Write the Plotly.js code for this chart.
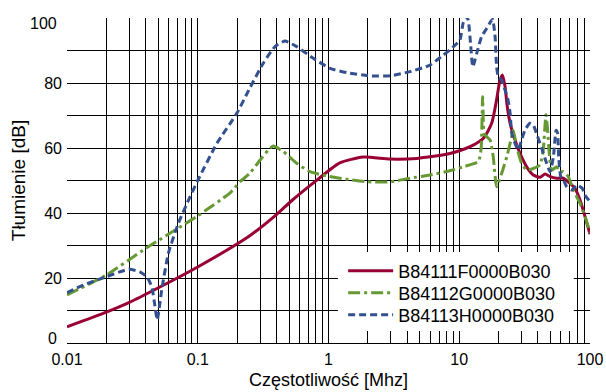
<!DOCTYPE html>
<html>
<head>
<meta charset="utf-8">
<script src="https://cdn.plot.ly/plotly-3.0.1.min.js"></script>
<style>html,body{margin:0;padding:0;background:#fff;}#chart{width:606px;height:392px;}</style>
</head>
<body>
<div id="chart"></div>
<script>
// Series names
const seriesNames = ["B84111F0000B030", "B84112G0000B030", "B84113H0000B030"];

// B84111F0000B030 (solid, crimson)
const redFreq = [0.01, 0.02, 0.03, 0.05, 0.1, 0.25, 0.4, 0.53, 0.82, 1.22, 1.84, 2.95, 4.75, 8.5, 12.1, 15.3, 17.7, 19.3, 20.5, 21.4, 22.4, 23.3, 24.5, 26.7, 29.1, 32.8, 36.8, 41.5, 45.3, 49.5, 55.6, 62.5, 70.3, 76.8, 83.9, 91.6, 100];
const redDb = [5, 9.5, 12.5, 17, 23.4, 33, 39.5, 44, 50.2, 55.4, 57.2, 56.6, 56.8, 58.3, 60.4, 63, 67.6, 74.8, 80.9, 82.5, 78.9, 72.7, 67.6, 62.5, 58.4, 54.2, 51.7, 51, 52, 51.2, 50.7, 50.7, 49.1, 47.6, 44, 38.9, 33.5];

// B84112G0000B030 (dash-dot, green)
const greenFreq = [0.01, 0.02, 0.04, 0.098, 0.177, 0.21, 0.25, 0.30, 0.347, 0.378, 0.451, 0.571, 0.723, 0.968, 1.38, 1.96, 2.95, 4.2, 5.97, 8.49, 10.7, 14.0, 14.7, 15.1, 15.5, 16.2, 17.2, 18.2, 19.3, 21.1, 23.1, 25.2, 25.9, 27.5, 30, 32.8, 36.8, 41.5, 43.9, 46, 47.2, 48.8, 50.9, 55.6, 58.9, 62.5, 68.3, 74.5, 83.9, 91.6, 100];
const greenDb = [14.8, 20.9, 29.1, 38.9, 46.2, 49.6, 52.2, 56.3, 59.4, 60.6, 58.9, 55.3, 52.7, 51.4, 50.4, 49.6, 49.6, 50.7, 51.7, 53.0, 54.2, 55.8, 60, 75.8, 64.5, 63.5, 62.5, 57.3, 48.1, 52.2, 57.3, 63.5, 65.5, 60.4, 55.3, 53.2, 53.7, 54.8, 59.4, 70.2, 66.5, 58.4, 53.2, 54.2, 52.7, 52.7, 51.2, 47.1, 43, 38.9, 34];

// B84113H0000B030 (dashed, blue)
const blueFreq = [0.01, 0.0133, 0.02, 0.0298, 0.0361, 0.0407, 0.0445, 0.0471, 0.049, 0.053, 0.0596, 0.071, 0.0873, 0.1, 0.14, 0.199, 0.25, 0.317, 0.39, 0.465, 0.571, 0.765, 1.03, 1.38, 2.07, 2.95, 4.2, 5.97, 7.55, 8.49, 10.1, 10.7, 11.3, 11.7, 12.2, 12.7, 13.6, 14.8, 16.2, 17.4, 18.0, 18.8, 19.3, 19.9, 21.1, 22.4, 23.6, 24.5, 25.2, 26.7, 28.3, 30, 31.8, 34.7, 36.8, 39, 42.7, 46.6, 49.5, 52.5, 55, 56.5, 57.6, 59.7, 62.5, 66.4, 72.6, 79.7, 87.2, 91.6, 100];
const blueDb = [15.5, 17.8, 20.4, 22.7, 21.9, 20.4, 17.3, 11.2, 7.1, 16.3, 27.6, 36.8, 45, 50, 61.4, 70.7, 78.4, 86.1, 91.2, 92.9, 91.2, 87.6, 84.5, 83.2, 82.2, 82.2, 83.5, 85.5, 88.6, 90.2, 93.2, 98.4, 100.5, 99.4, 92.2, 85, 89.1, 94.2, 96.8, 98.9, 99.6, 94.2, 85, 81.9, 80.9, 77.8, 74.8, 70.7, 64.5, 61.4, 59.4, 62.5, 65.5, 67.6, 67.1, 64.5, 59.9, 55.3, 52.7, 57.3, 65.5, 64.5, 57.3, 51.2, 50.2, 48.1, 47.1, 48.6, 47.6, 45.5, 43.5];

// Axis ticks
const decades = [0.01, 0.1, 1, 10, 100];
const decadeLabels = ["0.01", "0.1", "1", "10", "100"];
const yTickVals = [0, 10, 20, 30, 40, 50, 60, 70, 80, 90, 100];
// inner y labels drawn by the axis; the two end labels are nudged inward as in the original
const yTickText = ["", "", "20", "", "40", "", "60", "", "80", "", ""];
const yEndVals = [0, 100];
const yEndText = ["0", "100"];

const xTickVals = [];
const xTickText = [];
decades.forEach((d, i) => {
  if (i === decades.length - 1) { xTickVals.push(d); xTickText.push(decadeLabels[i]); return; }
  for (let m = 1; m <= 9; m++) {
    xTickVals.push(d * m);
    xTickText.push(m === 1 ? decadeLabels[i] : "");
  }
});

const FONT = "Liberation Sans, Arial, sans-serif";

const traces = [
  {x: redFreq, y: redDb, name: seriesNames[0], mode: "lines", legend: "legend",
   line: {color: "#990033", width: 3, shape: "spline", smoothing: 0.6}},
  {x: greenFreq, y: greenDb, name: seriesNames[1], mode: "lines", legend: "legend2",
   line: {color: "#669933", width: 3, dash: "12px,4px,3px,4px", shape: "spline", smoothing: 0.5}},
  {x: blueFreq, y: blueDb, name: seriesNames[2], mode: "lines", legend: "legend3",
   line: {color: "#33508f", width: 3, dash: "7px,4px", shape: "spline", smoothing: 0.5}}
];

function legendAt(yc) {
  return {x: 0.528, y: yc, xanchor: "left", yanchor: "middle", bgcolor: "rgba(0,0,0,0)",
          borderwidth: 0, font: {family: FONT, size: 18, color: "#000"}, itemwidth: 45};
}

const endAnnotations = yEndVals.map((v, i) => ({
  xref: "paper", yref: "y", x: 0, y: v, text: yEndText[i], showarrow: false,
  xanchor: "right", yanchor: "middle", xshift: -9, yshift: i === 0 ? 5 : -5,
  borderpad: 0, font: {family: FONT, size: 16, color: "#000"}
}));

const layout = {
  width: 606, height: 392,
  margin: {l: 67, r: 16, t: 18, b: 49},
  paper_bgcolor: "#fff", plot_bgcolor: "#fff",
  font: {family: FONT, size: 16, color: "#000"},
  showlegend: true,
  legend: legendAt(0.2215),
  legend2: legendAt(0.1538),
  legend3: legendAt(0.0862),
  annotations: endAnnotations,
  shapes: [
    {type: "rect", xref: "paper", yref: "paper", x0: 0.518, x1: 0.969, y0: 0.037, y1: 0.28,
     fillcolor: "#fff", line: {width: 0}, layer: "above"}
  ],
  xaxis: {
    type: "log", range: [-2, 2], tickvals: xTickVals, ticktext: xTickText,
    showgrid: true, gridcolor: "#000", gridwidth: 1, zeroline: false,
    showline: true, linecolor: "#000", linewidth: 1, ticks: "", ticklabelstandoff: 2,
    tickfont: {family: FONT, size: 16, color: "#000"},
    title: {text: "Częstotliwość [Mhz]", font: {family: FONT, size: 18, color: "#000"}, standoff: 6}
  },
  yaxis: {
    range: [0, 100], tickvals: yTickVals, ticktext: yTickText,
    showgrid: true, gridcolor: "#000", gridwidth: 1, zeroline: false,
    showline: false, ticks: "", ticklabelstandoff: 4,
    tickfont: {family: FONT, size: 16, color: "#000"},
    title: {text: "Tłumienie [dB]", font: {family: FONT, size: 19, color: "#000"}, standoff: 13}
  }
};

Plotly.newPlot("chart", traces, layout, {staticPlot: true, displayModeBar: false});
</script>
</body>
</html>
